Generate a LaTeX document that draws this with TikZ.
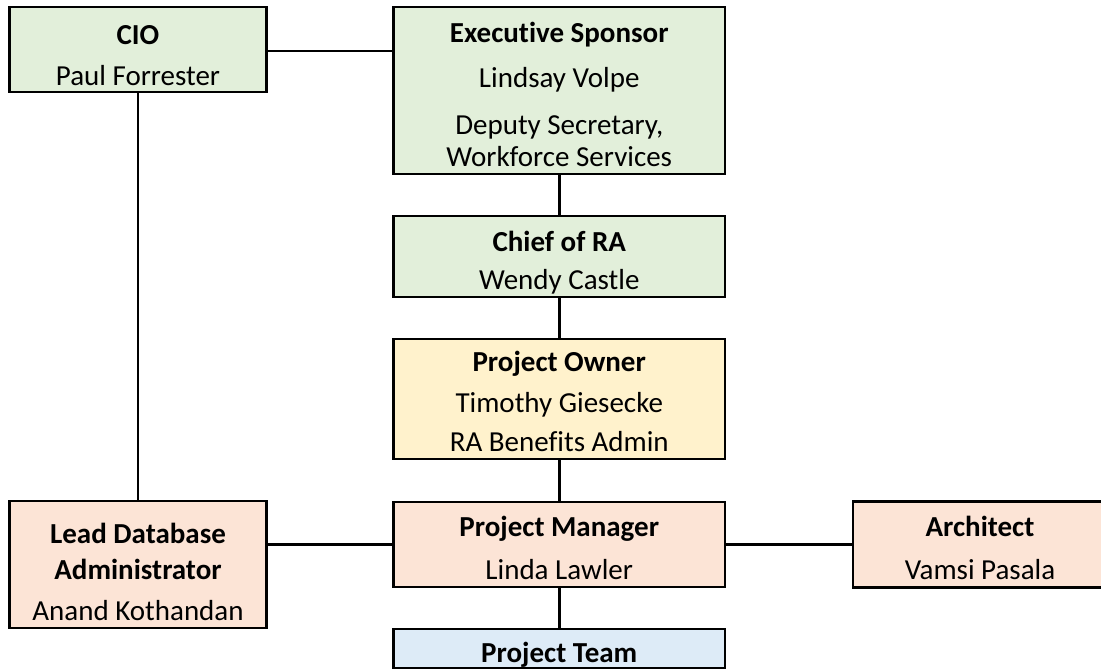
\documentclass[tikz,border=0pt]{standalone}
\usepackage{fontspec}
\setmainfont{Carlito}[Ligatures=NoCommon]
\definecolor{boxgreen}{HTML}{E2EFDA}
\definecolor{boxyellow}{HTML}{FFF2CC}
\definecolor{boxpeach}{HTML}{FCE4D6}
\definecolor{boxblue}{HTML}{DDEBF7}
\tikzset{
  orgbox/.style={draw=black, line width=2.5pt, rectangle, inner sep=0pt},
  wire/.style={draw=black, line width=2.5pt},
  txt/.style={anchor=base, inner sep=0pt, font=\fontsize{29}{34}\selectfont},
  bold/.style={txt, font=\fontsize{29}{34}\selectfont\bfseries},
}
\begin{document}
\begin{tikzpicture}[x=1pt,y=-1pt]
\useasboundingbox (0,0) rectangle (1101,670);

% boxes
\node[orgbox, fill=boxgreen, minimum width=257pt, minimum height=85pt] (cio) at (138,49.5) {};
\node[orgbox, fill=boxgreen, minimum width=331.5pt, minimum height=167pt] (exec) at (559.25,90.5) {};
\node[orgbox, fill=boxgreen, minimum width=331.5pt, minimum height=81pt] (chief) at (559.25,256.5) {};
\node[orgbox, fill=boxyellow, minimum width=331.5pt, minimum height=120pt] (owner) at (559.25,399) {};
\node[orgbox, fill=boxpeach, minimum width=331.5pt, minimum height=85pt] (pm) at (559.25,544.5) {};
\node[orgbox, fill=boxblue, minimum width=331.5pt, minimum height=39pt] (team) at (559.25,648.5) {};
\node[orgbox, fill=boxpeach, minimum width=257pt, minimum height=127pt] (lead) at (138,564.5) {};
\node[orgbox, fill=boxpeach, minimum width=254pt, minimum height=86pt] (arch) at (980,544.5) {};

% texts
\node[bold] (cio1) at (138,44) {CIO};
\node[txt] (cio2) at (138,85) {Paul Forrester};

\node[bold] (exec1) at (559.25,42) {Executive Sponsor};
\node[txt] (exec2) at (559.25,87) {Lindsay Volpe};
\node[txt] (exec3) at (559.25,134) {Deputy Secretary,};
\node[txt] (exec4) at (559.25,166) {Workforce Services};

\node[bold] (chief1) at (559.25,251) {Chief of RA};
\node[txt] (chief2) at (559.25,289) {Wendy Castle};

\node[bold] (owner1) at (559.25,371) {Project Owner};
\node[txt] (owner2) at (559.25,412) {Timothy Giesecke};
\node[txt] (owner3) at (559.25,451) {RA Benefits Admin};

\node[bold] (pm1) at (559.25,536) {Project Manager};
\node[txt] (pm2) at (559.25,579) {Linda Lawler};

\node[bold] (team1) at (559.25,662) {Project Team};

\node[bold] (lead1) at (138,543) {Lead Database};
\node[bold] (lead2) at (138,579) {Administrator};
\node[txt] (lead3) at (138,620) {Anand Kothandan};

\node[bold] (arch1) at (980,536) {Architect};
\node[txt] (arch2) at (980,579) {Vamsi Pasala};

% connectors
\draw[wire] (cio.east |- 0,51) -- (exec.west |- 0,51);
\draw[wire] (cio.south) -- (lead.north);
\draw[wire] (exec.south) -- (chief.north);
\draw[wire] (chief.south) -- (owner.north);
\draw[wire] (owner.south) -- (pm.north);
\draw[wire] (pm.south) -- (team.north);
\draw[wire] (lead.east |- pm.west) -- (pm.west);
\draw[wire] (pm.east) -- (arch.west);
\end{tikzpicture}
\end{document}
